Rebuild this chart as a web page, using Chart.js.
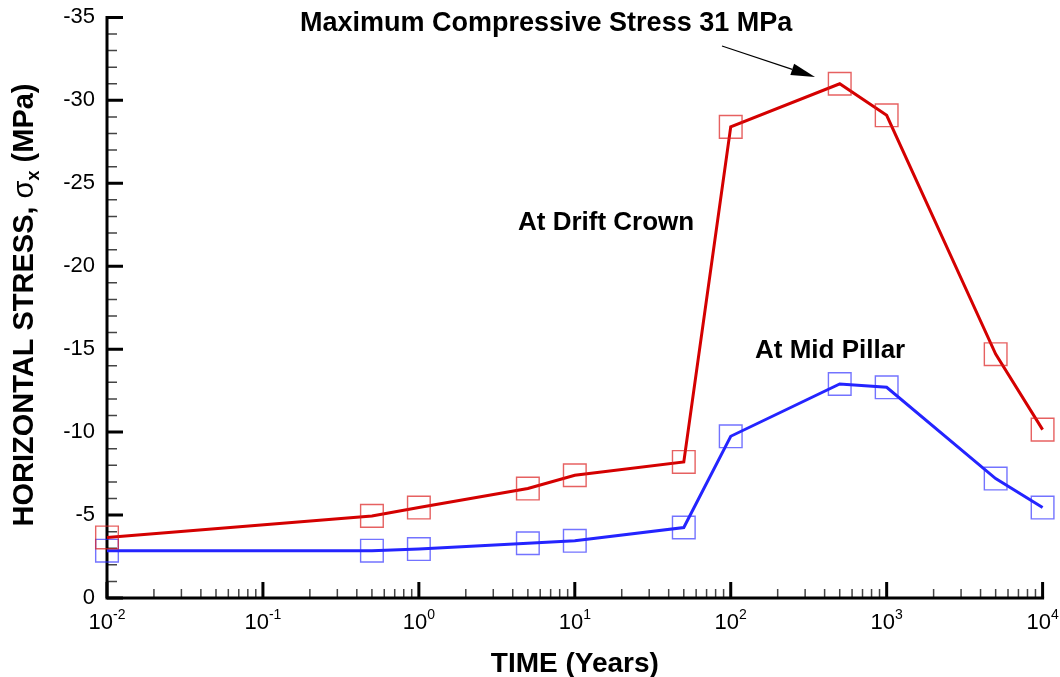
<!DOCTYPE html>
<html>
<head>
<meta charset="utf-8">
<title>Horizontal stress vs time</title>
<script src="https://cdn.jsdelivr.net/npm/chart.js@4.4.1/dist/chart.umd.min.js"></script>
<style>
  html, body { margin: 0; padding: 0; background: #fff; }
  #wrap { width: 1060px; height: 677px; position: relative; }
</style>
</head>
<body>
<div id="wrap"><canvas id="stressChart"></canvas></div>
<script>
// ─── Data ───────────────────────────────────────────────────────────
const TIME_YEARS  = [0.01, 0.5, 1, 5, 10, 50, 100, 500, 1000, 5000, 10000];
const DRIFT_CROWN = [-3.65, -4.95, -5.45, -6.6, -7.4, -8.2, -28.4, -31.0, -29.1, -14.7, -10.15];
const MID_PILLAR  = [-2.85, -2.85, -2.95, -3.3, -3.45, -4.25, -9.75, -12.9, -12.7, -7.2, -5.45];

// ─── Axis ticks ─────────────────────────────────────────────────────
const X_DECADES = [-2, -1, 0, 1, 2, 3, 4];
const Y_TICKS   = [-35, -30, -25, -20, -15, -10, -5, 0];

const FONT = '"Liberation Sans", Arial, sans-serif';

const toPoints = (ys) => TIME_YEARS.map((t, i) => ({ x: t, y: ys[i] }));

// Draws the Tecplot-style axes: inward ticks, 10^n labels, titles, notes
const axesPlugin = {
  id: "axesPlugin",
  beforeDatasetsDraw(chart) {
    const { ctx, chartArea: a, scales: { x, y } } = chart;
    ctx.save();
    ctx.lineCap = "butt";

    // minor ticks
    ctx.strokeStyle = "#444";
    ctx.lineWidth = 1.5;
    ctx.beginPath();
    for (let d = X_DECADES[0]; d < X_DECADES[X_DECADES.length - 1]; d++) {
      for (let m = 2; m <= 9; m++) {
        const px = x.getPixelForValue(m * Math.pow(10, d));
        ctx.moveTo(px, a.bottom);
        ctx.lineTo(px, a.bottom - 9);
      }
    }
    for (let v = -34; v < 0; v++) {
      if (v % 5 === 0) continue;
      const py = y.getPixelForValue(v);
      ctx.moveTo(a.left, py);
      ctx.lineTo(a.left + 10, py);
    }
    ctx.stroke();

    // major ticks
    ctx.strokeStyle = "#000";
    ctx.lineWidth = 3;
    ctx.beginPath();
    X_DECADES.forEach((d) => {
      const px = x.getPixelForValue(Math.pow(10, d));
      ctx.moveTo(px, a.bottom);
      ctx.lineTo(px, a.bottom - 16);
    });
    Y_TICKS.forEach((v) => {
      const py = y.getPixelForValue(v);
      ctx.moveTo(a.left, py);
      ctx.lineTo(a.left + 16, py);
    });
    ctx.stroke();

    // axis lines (left + bottom only)
    ctx.lineWidth = 3;
    ctx.beginPath();
    ctx.moveTo(a.left, a.top - 1.5);
    ctx.lineTo(a.left, a.bottom);
    ctx.lineTo(a.right + 1.5, a.bottom);
    ctx.stroke();
    ctx.restore();
  },

  afterDraw(chart) {
    const { ctx, chartArea: a, scales: { x } } = chart;
    ctx.save();
    ctx.fillStyle = "#000";
    ctx.textBaseline = "alphabetic";

    // x tick labels 10^n with superscripts
    X_DECADES.forEach((d) => {
      const px = x.getPixelForValue(Math.pow(10, d));
      ctx.font = `22px ${FONT}`;
      const w1 = ctx.measureText("10").width;
      ctx.font = `14px ${FONT}`;
      const w2 = ctx.measureText(String(d)).width;
      const left = px - (w1 + w2) / 2;
      ctx.font = `22px ${FONT}`;
      ctx.textAlign = "left";
      ctx.fillText("10", left, 629);
      ctx.font = `14px ${FONT}`;
      ctx.fillText(String(d), left + w1, 619);
    });

    // x title
    ctx.font = `bold 28px ${FONT}`;
    ctx.textAlign = "center";
    ctx.fillText("TIME (Years)", (a.left + a.right) / 2, 672);

    // y title (rotated, with sigma_x)
    const parts = [
      { t: "HORIZONTAL STRESS, ", f: `bold 29px ${FONT}`, dy: 0 },
      { t: "\u03C3", f: `29px ${FONT}`, dy: 0 },
      { t: "x", f: `bold 18px ${FONT}`, dy: 6 },
      { t: " (MPa)", f: `bold 29px ${FONT}`, dy: 0 },
    ];
    let total = 0;
    parts.forEach((p) => { ctx.font = p.f; p.w = ctx.measureText(p.t).width; total += p.w; });
    ctx.translate(33, 305);
    ctx.rotate(-Math.PI / 2);
    ctx.textAlign = "left";
    let cx = -total / 2;
    parts.forEach((p) => {
      ctx.font = p.f;
      ctx.fillText(p.t, cx, p.dy);
      cx += p.w;
    });
    ctx.setTransform(1, 0, 0, 1, 0, 0);

    // annotations
    ctx.font = `bold 27px ${FONT}`;
    ctx.textAlign = "left";
    ctx.fillText("Maximum Compressive Stress 31 MPa", 300, 31);
    ctx.font = `bold 26px ${FONT}`;
    ctx.fillText("At Drift Crown", 518, 230);
    ctx.fillText("At Mid Pillar", 755, 358);

    // arrow to the peak
    const x0 = 722, y0 = 46, x1 = 815, y1 = 77;
    const ang = Math.atan2(y1 - y0, x1 - x0);
    const hl = 24, hw = 6;
    const bx = x1 - hl * Math.cos(ang), by = y1 - hl * Math.sin(ang);
    ctx.strokeStyle = "#000";
    ctx.lineWidth = 1.2;
    ctx.beginPath();
    ctx.moveTo(x0, y0);
    ctx.lineTo(bx, by);
    ctx.stroke();
    ctx.beginPath();
    ctx.moveTo(x1, y1);
    ctx.lineTo(bx + hw * Math.sin(ang), by - hw * Math.cos(ang));
    ctx.lineTo(bx - hw * Math.sin(ang), by + hw * Math.cos(ang));
    ctx.closePath();
    ctx.fill();
    ctx.restore();
  },
};

const lineSet = (label, ys, lineColor, markColor) => ({
  label,
  data: toPoints(ys),
  borderColor: lineColor,
  borderWidth: 3,
  tension: 0,
  pointStyle: "rect",
  pointRadius: 16,
  pointHoverRadius: 16,
  pointBorderWidth: 1.4,
  pointBorderColor: markColor,
  pointBackgroundColor: "rgba(0,0,0,0)",
  clip: false,
});

new Chart(document.getElementById("stressChart"), {
  type: "line",
  data: {
    datasets: [
      lineSet("At Drift Crown", DRIFT_CROWN, "#d40000", "rgba(220,30,30,0.7)"),
      lineSet("At Mid Pillar", MID_PILLAR, "#2424ff", "rgba(40,40,255,0.65)"),
    ],
  },
  options: {
    responsive: true,
    maintainAspectRatio: false,
    animation: false,
    events: [],
    layout: { padding: { top: 16, right: 17, left: 0, bottom: 0 } },
    plugins: {
      legend: { display: false },
      tooltip: { enabled: false },
    },
    scales: {
      x: {
        type: "logarithmic",
        min: 0.01,
        max: 10000,
        grid: { display: false, drawTicks: false, tickLength: 0 },
        border: { display: false },
        ticks: { display: false },
        afterBuildTicks: (s) => { s.ticks = X_DECADES.map((d) => ({ value: Math.pow(10, d) })); },
        afterFit: (s) => { s.height = 79; s.paddingLeft = 0; s.paddingRight = 0; },
      },
      y: {
        type: "linear",
        min: -35,
        max: 0,
        reverse: true,
        grid: { display: false, drawTicks: false, tickLength: 0 },
        border: { display: false },
        ticks: {
          color: "#000",
          padding: 12,
          font: { family: FONT, size: 22 },
          callback: (v) => String(v),
        },
        afterBuildTicks: (s) => { s.ticks = Y_TICKS.map((v) => ({ value: v })); },
        afterFit: (s) => { s.width = 107; s.paddingTop = 0; s.paddingBottom = 0; },
      },
    },
  },
  plugins: [axesPlugin],
});
</script>
</body>
</html>
